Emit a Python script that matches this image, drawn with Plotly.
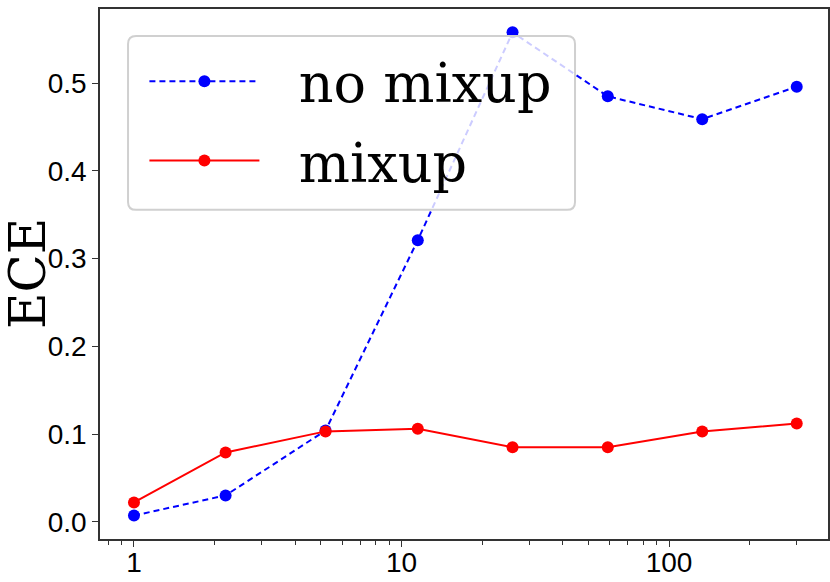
import plotly.graph_objects as go

x_vals = [1, 2.2, 5.2, 11.5, 26, 59, 133, 300]
no_mixup = [0.007, 0.030, 0.104, 0.321, 0.558, 0.485, 0.459, 0.496]
mixup = [0.022, 0.079, 0.103, 0.106, 0.085, 0.085, 0.103, 0.112]
y_ticks = [0.0, 0.1, 0.2, 0.3, 0.4, 0.5]
x_ticks = [1, 10, 100]
x_minor = [0.8, 0.9, 2, 3, 4, 5, 6, 7, 8, 9, 20, 30, 40, 50, 60, 70, 80, 90, 200, 300]

fig = go.Figure()
fig.add_trace(go.Scatter(
    x=x_vals, y=no_mixup, name="\u00a0\u00a0no mixup", mode="lines+markers",
    legendgroup="a",
    line=dict(color="#0000ff", width=2, dash="6px,4px"),
    marker=dict(color="#0000ff", size=12),
))
fig.add_trace(go.Scatter(
    x=x_vals, y=mixup, name="\u00a0\u00a0mixup", mode="lines+markers",
    legendgroup="b",
    line=dict(color="#ff0000", width=2),
    marker=dict(color="#ff0000", size=12),
))

axis_common = dict(
    showline=True, linecolor="#333", linewidth=1.5, mirror=True,
    showgrid=False, zeroline=False, ticks="outside", tickcolor="#333",
    tickfont=dict(family="Liberation Sans, Arial", size=28, color="#000"),
)

fig.update_layout(
    width=830, height=582,
    margin=dict(l=100, r=2, t=9, b=43, autoexpand=False),
    plot_bgcolor="white", paper_bgcolor="white",
    xaxis=dict(type="log", range=[-0.127, 2.594], tickvals=x_ticks,
               ticktext=[str(v) for v in x_ticks], ticklen=6, tickwidth=1.2,
               ticklabelstandoff=-8,
               minor=dict(tickvals=x_minor, ticks="outside", ticklen=4, tickcolor="#333", tickwidth=1),
               **axis_common),
    yaxis=dict(range=[-0.0197, 0.5846], tickvals=y_ticks,
               ticktext=[f"{v:.1f}" for v in y_ticks], ticklen=6, tickwidth=1.2,
               **axis_common),
    showlegend=True,
    legend=dict(x=0.061, y=0.942, xanchor="left", yanchor="top",
                bgcolor="rgba(0,0,0,0)", borderwidth=0,
                traceorder="grouped", tracegroupgap=6,
                font=dict(family="DejaVu Serif", size=54, color="#000"),
                itemwidth=110),
    shapes=[dict(type="path", xref="paper", yref="paper", layer="above",
                 path="M 0.0495,0.949 L 0.6415,0.949 Q 0.6525,0.949 0.6525,0.934 L 0.6525,0.636 Q 0.6525,0.621 0.6415,0.621 L 0.0495,0.621 Q 0.0385,0.621 0.0385,0.636 L 0.0385,0.934 Q 0.0385,0.949 0.0495,0.949 Z",
                 fillcolor="rgba(255,255,255,0.8)", line=dict(color="#d0d0d0", width=2))],
    annotations=[dict(text="ECE", xref="paper", yref="paper", x=-0.0989, y=0.5,
                      xanchor="center", yanchor="middle",
                      showarrow=False, textangle=-90,
                      font=dict(family="DejaVu Serif", size=50, color="#000"))],
)

fig.write_html("out.html", config={"displayModeBar": False},
               post_script="document.body.style.margin='0px';")
